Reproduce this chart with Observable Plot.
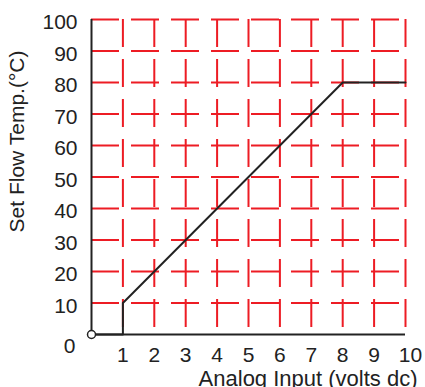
<!DOCTYPE html>
<html><head><meta charset="utf-8">
<script src="https://cdn.jsdelivr.net/npm/d3@7"></script>
<script src="https://cdn.jsdelivr.net/npm/@observablehq/plot@0.6"></script>
<style>body{margin:0;background:#fff} svg{display:block}</style>
</head><body><div id="chart"></div>
<script>
const xTicks = [1, 2, 3, 4, 5, 6, 7, 8, 9, 10];
const yTicks = [10, 20, 30, 40, 50, 60, 70, 80, 90, 100];
const inputVolts = [0, 1, 1, 8, 10];
const flowTemp = [0, 0, 10, 80, 80];
const xLabel = "Analog Input (volts dc)";
const yLabel = "Set Flow Temp.(°C)";

const series = inputVolts.map((x, i) => ({x, y: flowTemp[i]}));
const red = "#ed1c24";
const ink = "#222";

const chart = Plot.plot({
  width: 425, height: 387,
  marginLeft: 91, marginRight: 20, marginTop: 19, marginBottom: 53,
  style: {fontFamily: "'Liberation Sans', Arial, sans-serif", fontSize: "21px", color: ink, background: "#fff", overflow: "visible"},
  x: {domain: [0, 10]},
  y: {domain: [0, 100]},
  marks: [
    Plot.ruleX(xTicks, {x: d => d, y1: 100, y2: 0, stroke: red, strokeWidth: 2, strokeDasharray: "28,12"}),
    Plot.ruleY(yTicks, {y: d => d, x1: 0, x2: 10, stroke: red, strokeWidth: 2, strokeDasharray: "28,12"}),
    Plot.ruleX([0], {x: d => d, y1: 0, y2: 100, stroke: ink, strokeWidth: 2}),
    Plot.ruleY([0], {y: d => d, x1: 0, x2: 10, stroke: ink, strokeWidth: 2}),
    Plot.axisX(xTicks.slice(0, -1), {tickSize: 0, tickPadding: 13, fontSize: 21, label: null}),
    Plot.text(xTicks.slice(-1), {x: d => d, frameAnchor: "bottom", lineAnchor: "top", dy: 13, dx: 5, fontSize: 21, text: d => String(d)}),
    Plot.axisY(yTicks, {tickSize: 0, tickPadding: 14, dy: 3, fontSize: 21, label: null}),
    Plot.text([0], {x: 0, y: 0, text: d => String(d), textAnchor: "end", lineAnchor: "middle", dx: -16, dy: 12, fontSize: 21}),
    Plot.text([yLabel], {frameAnchor: "top-left", textAnchor: "middle", lineAnchor: "middle", dx: -74, dy: 122, rotate: -90, fontSize: 21, text: d => d}),
    Plot.text([xLabel], {frameAnchor: "bottom-right", textAnchor: "end", lineAnchor: "middle", dx: 12, dy: 44, fontSize: 22, text: d => d}),
    Plot.line(series, {x: "x", y: "y", stroke: ink, strokeWidth: 2}),
    Plot.dot(series.slice(0, 1), {x: "x", y: "y", r: 4, stroke: ink, fill: "white", strokeWidth: 1.5})
  ]
});
document.getElementById("chart").append(chart);
</script></body></html>
